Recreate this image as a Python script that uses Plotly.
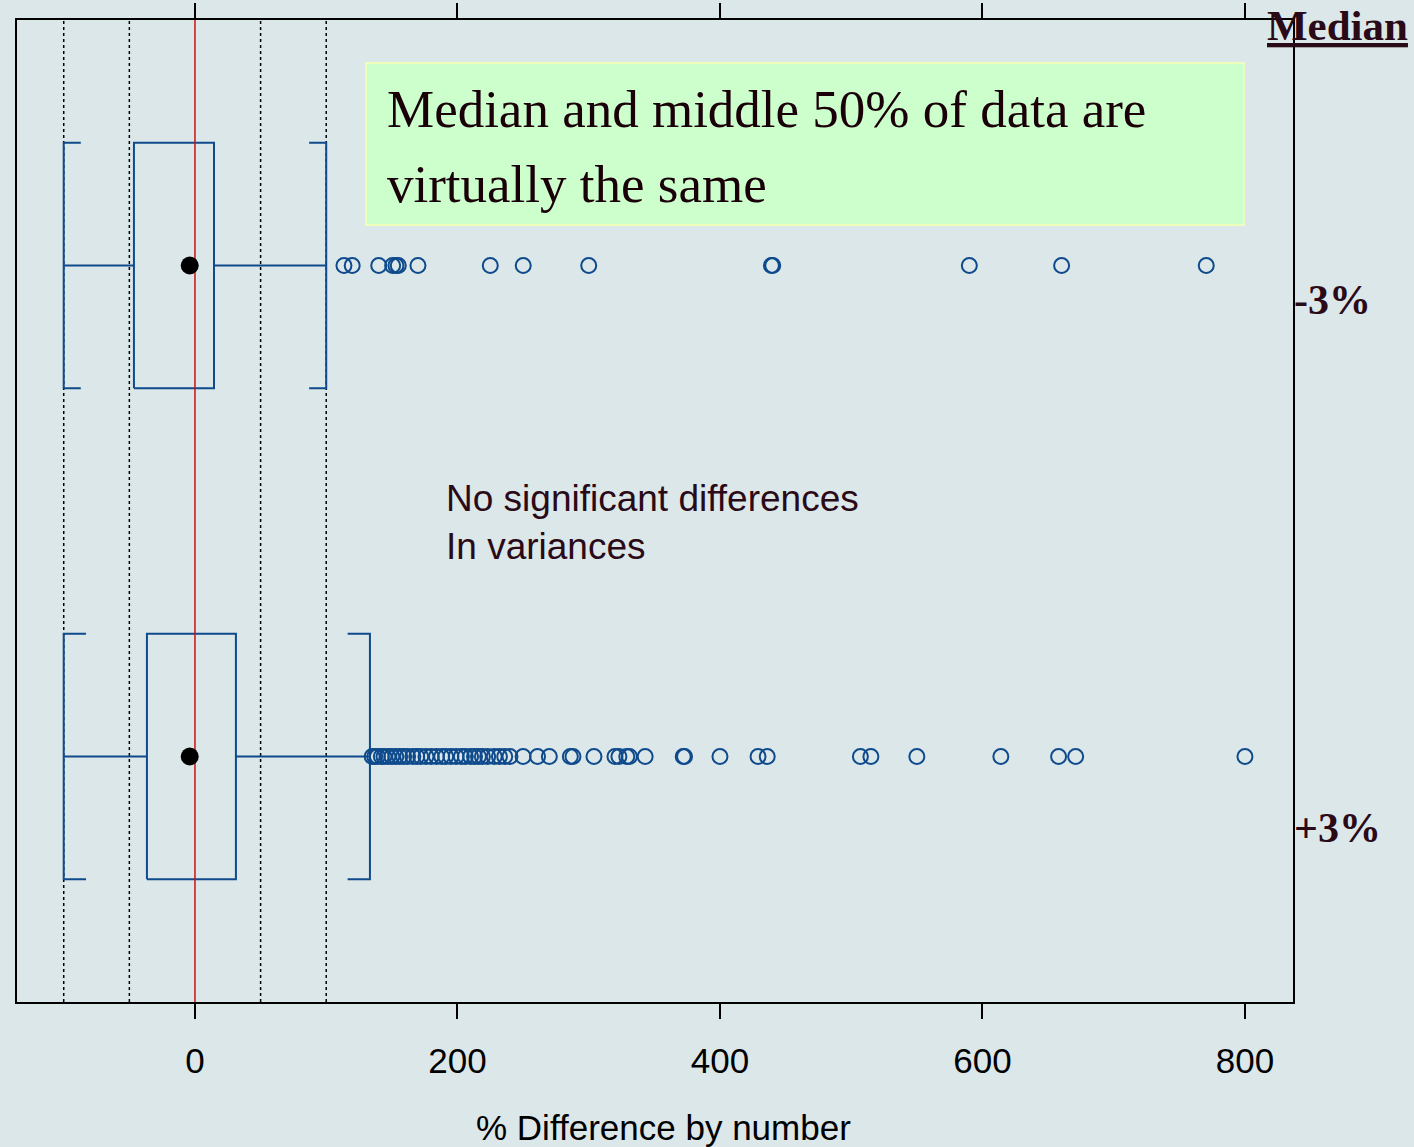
import plotly.graph_objects as go

# Groups (y positions: top = -3%, bottom = +3%)
groups = ["-3%", "+3%"]
group_y = [2, 1]

# Box statistics per group (% difference by number)
whisker_low = [-100, -100]
q1 = [-46.5, -36.6]
median = [-4, -4]
q3 = [14.5, 31.2]
whisker_high = [100, 133.3]

# Outliers beyond the upper whisker
outliers_minus3 = [113.5, 119.8, 140, 150.6, 153.1, 154.9, 169.9, 225, 250.1, 300,
                   439.2, 440.2, 590, 660.3, 770.5]
outliers_plus3 = [135, 137, 139, 142, 144, 147, 150, 153, 156, 159, 162, 166, 169, 172,
                  176, 180, 184, 188, 191, 195, 199, 203, 206, 210, 213, 216, 219, 223,
                  228, 232, 236, 240, 250, 261, 270, 286, 288, 304, 320, 323, 329, 331,
                  343, 372, 373, 400, 429, 436, 507, 515, 550, 614, 658, 671, 800]
outliers = [outliers_minus3, outliers_plus3]

# Reference lines
dotted_refs = [-100, -50, 50, 100]
zero_ref = 0

x_ticks = [0, 200, 400, 600, 800]

BG = "#dce7e9"
BLUE = "#0e4a8c"
INK = "#2a0a16"

half_h = 0.25
cap_len = [13, 17]

fig = go.Figure()

for d in dotted_refs:
    fig.add_trace(go.Scatter(x=[d, d], y=[0.5, 2.5], mode="lines",
                             line=dict(color="black", width=1.5, dash="dot"),
                             hoverinfo="skip", showlegend=False))

for i, y in enumerate(group_y):
    lo, a, m, b, hi, cl = whisker_low[i], q1[i], median[i], q3[i], whisker_high[i], cap_len[i]
    top, bot = y + half_h, y - half_h
    xs = [a, b, b, a, a, None,
          lo, a, None, b, hi, None,
          lo + cl, lo, lo, lo + cl, None,
          hi - cl, hi, hi, hi - cl]
    ys = [bot, bot, top, top, bot, None,
          y, y, None, y, y, None,
          top, top, bot, bot, None,
          top, top, bot, bot]
    fig.add_trace(go.Scatter(x=xs, y=ys, mode="lines",
                             line=dict(color=BLUE, width=2),
                             hoverinfo="skip", showlegend=False))
    fig.add_trace(go.Scatter(x=outliers[i], y=[y] * len(outliers[i]), mode="markers",
                             marker=dict(symbol="circle-open", size=15, color=BLUE,
                                         line=dict(width=2, color=BLUE)),
                             showlegend=False))

fig.add_trace(go.Scatter(x=[zero_ref, zero_ref], y=[0.5, 2.5], mode="lines",
                         line=dict(color="#cc1111", width=1.5),
                         hoverinfo="skip", showlegend=False))

fig.add_trace(go.Scatter(x=median, y=group_y, mode="markers",
                         marker=dict(symbol="circle", size=18, color="black"),
                         showlegend=False))

# Note box
fig.add_shape(type="rect", x0=130.3, x1=799.2, y0=2.0825, y1=2.4124,
              fillcolor="#ccffcc", line=dict(color="#eeffbb", width=2), layer="below")

serif = "Liberation Serif"
sans = "Liberation Sans"

fig.add_annotation(x=145, y=2.3187, text="Median and middle 50% of data are",
                   xanchor="left", yanchor="middle", showarrow=False,
                   font=dict(family=serif, size=53, color="#1a0008"))
fig.add_annotation(x=145, y=2.166, text="virtually the same",
                   xanchor="left", yanchor="middle", showarrow=False,
                   font=dict(family=serif, size=53, color="#1a0008"))

fig.add_annotation(x=190, y=1.4766, text="No significant differences<br>In variances",
                   xanchor="left", yanchor="middle", align="left", showarrow=False,
                   font=dict(family=sans, size=37, color=INK))

# Group labels on the right
label_y = [1.93, 0.8544]
for g, ly in zip(groups, label_y):
    fig.add_annotation(x=1, xref="paper", xanchor="left", xshift=-1, y=ly,
                       yanchor="middle", text="<b>" + g + "</b>", showarrow=False,
                       font=dict(family=serif, size=42, color=INK))

fig.add_annotation(x=1, xref="paper", xanchor="left", xshift=-28, y=1.0, yref="paper",
                   yanchor="top", yshift=20, text="<b><u>Median</u></b>", showarrow=False,
                   font=dict(family=serif, size=43, color=INK))

# Axis title
fig.add_annotation(x=0.5063, xref="paper", y=-0.1273, yref="paper",
                   xanchor="center", yanchor="middle", showarrow=False,
                   text="% Difference by number",
                   font=dict(family=sans, size=35, color="black"))

fig.update_layout(
    width=1414, height=1147,
    margin=dict(l=17, r=121, t=20, b=145),
    paper_bgcolor=BG, plot_bgcolor=BG,
    xaxis=dict(range=[-135.6, 836.6], tickvals=x_ticks, ticks="outside", ticklen=15,
               tickcolor="black", tickwidth=1.5, showgrid=False, zeroline=False,
               showline=True, linecolor="black", linewidth=1.5, mirror="ticks",
               automargin=False, ticklabelstandoff=12,
               tickfont=dict(family=sans, size=35, color="black")),
    yaxis=dict(range=[0.5, 2.5], showticklabels=False, ticks="", showgrid=False,
               zeroline=False, showline=True, linecolor="black", linewidth=1.5,
               mirror=True, automargin=False),
)

fig.write_html("out.html")
